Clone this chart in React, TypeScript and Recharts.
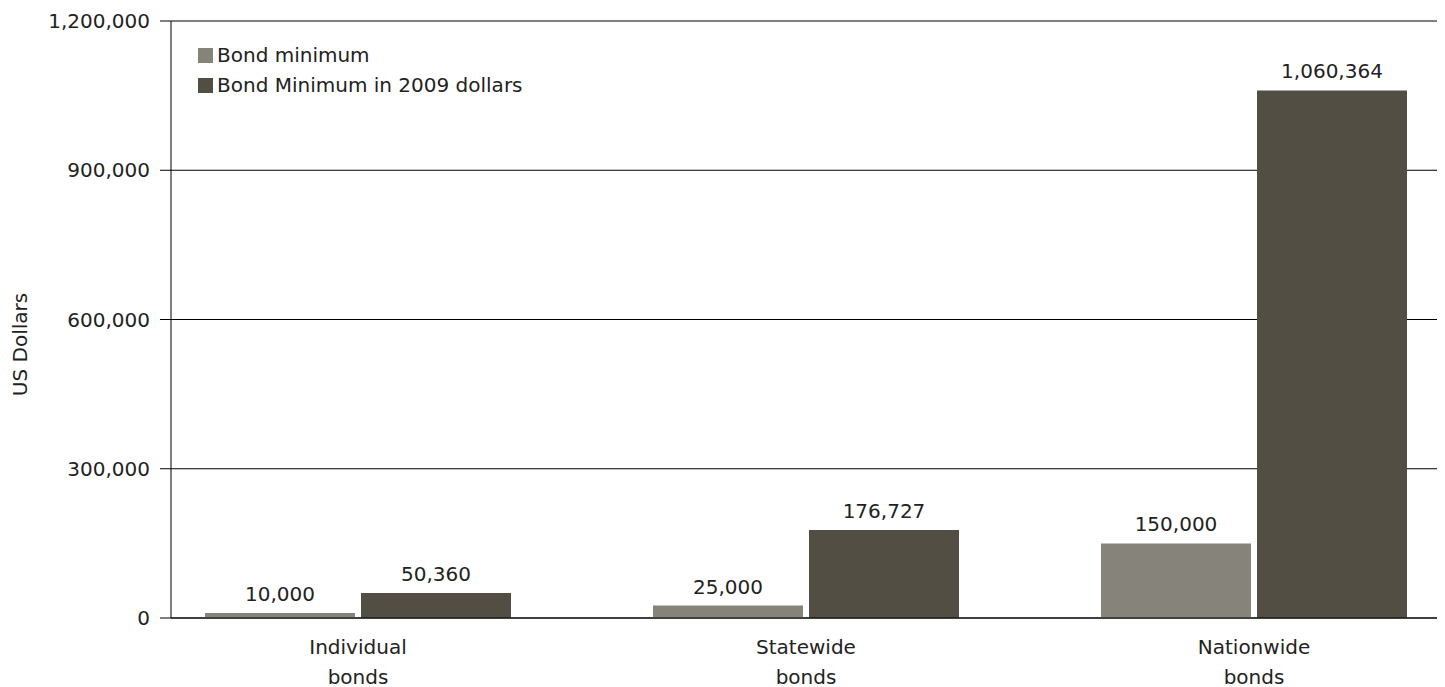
import React from 'react';
import { BarChart, Bar, XAxis, YAxis, CartesianGrid, Legend, LabelList } from 'recharts';

const categories = ['Individual bonds', 'Statewide bonds', 'Nationwide bonds'];
const bondMinimum = [10000, 25000, 150000];
const bondMinimum2009 = [50360, 176727, 1060364];
const yTicks = [0, 300000, 600000, 900000, 1200000];
const seriesNames = ['Bond minimum', 'Bond Minimum in 2009 dollars'];
const colors = ['#85837a', '#524e44'];

const data = categories.map((c, i) => ({ name: c, min: bondMinimum[i], min2009: bondMinimum2009[i] }));

const FONT = '"DejaVu Sans", sans-serif';
const TEXT = '#222';
const fmt = (v: number) => Number(v).toLocaleString('en-US');

const XTick = (props: any) => {
  const { x, y, payload } = props;
  const words = String(payload.value).split(' ');
  return (
    <text x={x} y={y} textAnchor="middle" fontFamily={FONT} fontSize={20} fill={TEXT}>
      <tspan x={x} dy={36}>{words[0]}</tspan>
      <tspan x={x} dy={29.5}>{words[1]}</tspan>
    </text>
  );
};

const renderLegend = () => (
  <div style={{ fontFamily: FONT, fontSize: 20, color: TEXT }}>
    {seriesNames.map((n, i) => (
      <div key={n} style={{ display: 'flex', alignItems: 'center', height: 30 }}>
        <span style={{ display: 'inline-block', width: 15, height: 15, background: colors[i], marginRight: 4 }} />
        <span>{n}</span>
      </div>
    ))}
  </div>
);

const YLabel = (props: any) => {
  const vb = props.viewBox || {};
  const cx = vb.x + 20;
  const cy = vb.y + vb.height / 2 + 25;
  return (
    <text x={cx} y={cy} transform={`rotate(-90, ${cx}, ${cy})`} textAnchor="middle" dominantBaseline="central" fontFamily={FONT} fontSize={20} fill={TEXT}>
      US Dollars
    </text>
  );
};

export default function App() {
  return (
    <div style={{ position: 'absolute', left: 0, top: 0 }}>
      <BarChart
        width={1445}
        height={687}
        data={data}
        margin={{ top: 21, right: 8, left: 0, bottom: 0 }}
        barCategoryGap={71}
        barGap={6}
      >
        <CartesianGrid vertical={false} stroke="#000" strokeWidth={1} />
        <XAxis
          dataKey="name"
          height={69}
          tickLine={false}
          tickSize={0}
          tickMargin={0}
          axisLine={{ stroke: '#000' }}
          padding={{ left: -37, right: -41 }}
          tick={<XTick />}
          interval={0}
        />
        <YAxis
          width={171}
          domain={[0, 1200000]}
          ticks={yTicks}
          tickFormatter={fmt}
          tickSize={11}
          tickMargin={10}
          axisLine={{ stroke: '#000' }}
          tickLine={{ stroke: '#000' }}
          tick={{ fontFamily: FONT, fontSize: 20, fill: TEXT }}
          label={<YLabel />}
        />
        <Legend content={renderLegend} layout="horizontal" verticalAlign="middle" align="center" wrapperStyle={{ top: 40, left: 198, width: 'auto' }} />
        <Bar dataKey="min" name={seriesNames[0]} fill={colors[0]} isAnimationActive={false}>
          <LabelList dataKey="min" position="top" offset={12} formatter={fmt} style={{ fontFamily: FONT, fontSize: 20, fill: TEXT }} />
        </Bar>
        <Bar dataKey="min2009" name={seriesNames[1]} fill={colors[1]} isAnimationActive={false}>
          <LabelList dataKey="min2009" position="top" offset={12} formatter={fmt} style={{ fontFamily: FONT, fontSize: 20, fill: TEXT }} />
        </Bar>
      </BarChart>
    </div>
  );
}
